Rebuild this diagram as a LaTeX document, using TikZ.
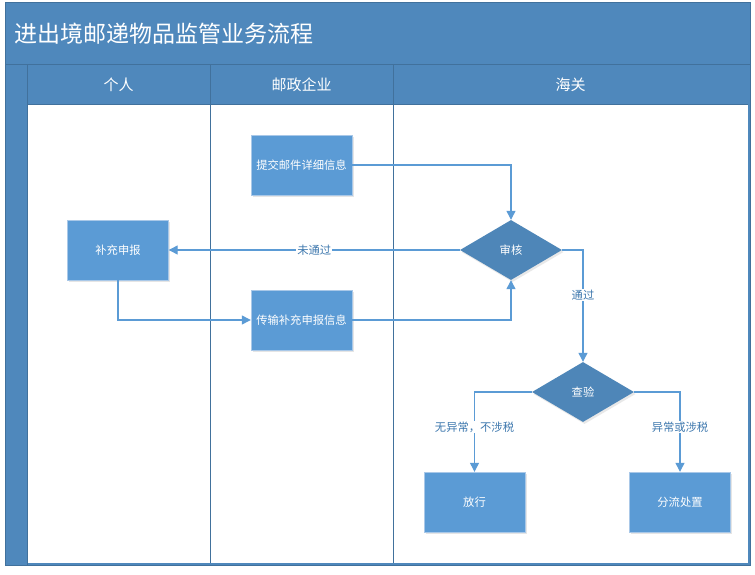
\documentclass[tikz,border=0pt]{standalone}
\usepackage{fontspec}
\setmainfont{Noto Sans CJK SC}
\usetikzlibrary{arrows.meta,positioning,shapes.geometric,shadows}
\definecolor{hdblue}{HTML}{4F88BC}
\definecolor{frameline}{HTML}{41719C}
\definecolor{boxblue}{HTML}{5B9BD5}
\definecolor{boxline}{HTML}{A9C8E8}
\definecolor{diablue}{HTML}{4E86B8}
\definecolor{flowblue}{HTML}{5B9BD5}
\definecolor{lblblue}{HTML}{3E78AE}

\begin{document}
\begin{tikzpicture}[x=1pt, y=-1pt,
    procbox/.style={rectangle, draw=boxline, fill=boxblue, minimum width=101pt, minimum height=60pt, text=white, font=\fontsize{11.3}{13}\selectfont, drop shadow={shadow xshift=1.5pt, shadow yshift=-2pt, fill=gray!40}},
    check/.style={diamond, fill=diablue, minimum width=102pt, minimum height=60pt, inner sep=0pt, text=white, font=\fontsize{11.3}{13}\selectfont, drop shadow={shadow xshift=1.5pt, shadow yshift=-2pt, fill=gray!35}},
    lanehead/.style={text=white, font=\fontsize{15}{18}\selectfont},
    lanesep/.style={draw=frameline, line width=1pt},
    flow/.style={-{Triangle[width=9pt,length=9pt]}, draw=flowblue, line width=1.2pt},
    lbl/.style={fill=white, text=lblblue, inner sep=1pt, font=\fontsize{11.3}{13}\selectfont}
]
    \useasboundingbox (0,0) rectangle (755,575);
    \fill[white] (0,0) rectangle (755,575);

    % Frame, title bar and lane headers
    \filldraw[fill=hdblue, draw=frameline, line width=1pt] (5,3) rectangle (750,565);
    \fill[white] (28,105) rectangle (748,563);
    \draw[lanesep] (5,65) -- (750,65);
    \draw[lanesep] (27,65) -- (27,565);
    \draw[lanesep] (27,105) -- (748,105);
    \draw[lanesep] (210,65) -- (210,563);
    \draw[lanesep] (393,65) -- (393,563);
    \node[anchor=west, text=white, font=\fontsize{23}{27}\selectfont] (title) at (11,34) {进出境邮递物品监管业务流程};
    \node[lanehead] (lane1) at (118.5,85) {个人};
    \node[lanehead] (lane2) at (301.5,85) {邮政企业};
    \node[lanehead] (lane3) at (570.5,85) {海关};

    % Steps
    \node[procbox] (submit) at (301.5,165) {提交邮件详细信息};
    \node[procbox] (supp) at (118,250) {补充申报};
    \node[procbox] (trans) at (301.5,320) {传输补充申报信息};
    \node[check] (audit) at (511,250) {审核};
    \node[check] (inspect) at (583,392) {查验};
    \node[procbox] (release) at (474.5,502) {放行};
    \node[procbox] (divert) at (680,502) {分流处置};

    % Flows
    \draw[flow] (submit.east) -| (audit.north);
    \draw[flow] (audit.west) -- node[lbl, pos=0.5]{未通过} (supp.east);
    \draw[flow] (supp.south) |- (trans.west);
    \draw[flow] (trans.east) -| (audit.south);
    \draw[flow] (audit.east) -| node[lbl, pos=0.7]{通过} (inspect.north);
    \draw[flow] (inspect.west) -| node[lbl, pos=0.72]{无异常，不涉税} (release.north);
    \draw[flow] (inspect.east) -| node[lbl, pos=0.72]{异常或涉税} (divert.north);
\end{tikzpicture}
\end{document}
